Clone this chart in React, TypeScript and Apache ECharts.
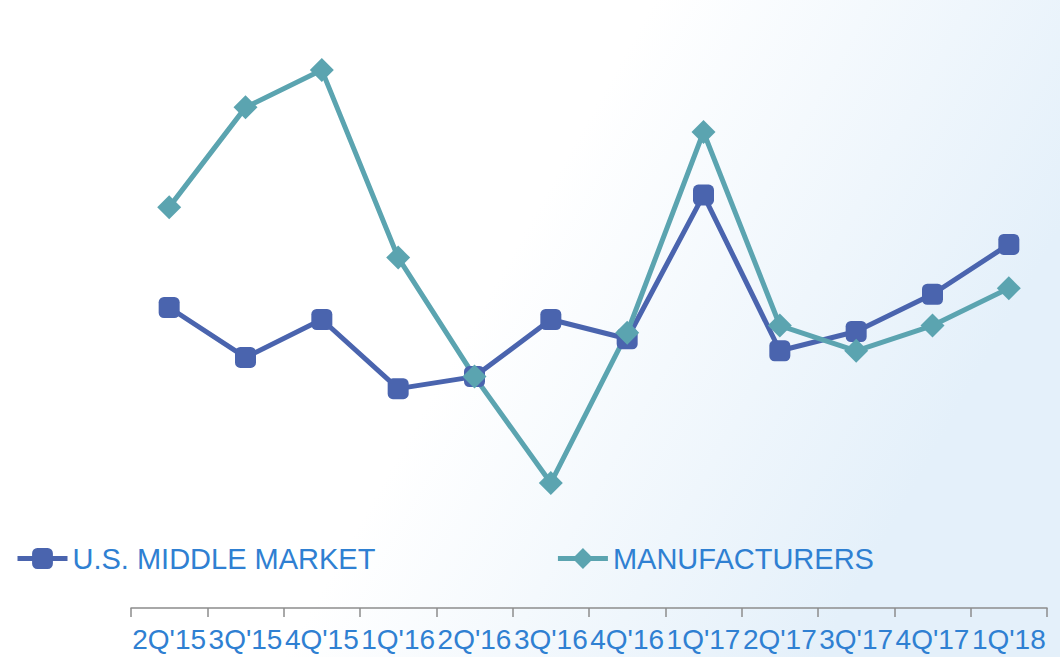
import React, { useEffect, useRef } from "react";
import * as echarts from "echarts";

const categories = ["2Q'15", "3Q'15", "4Q'15", "1Q'16", "2Q'16", "3Q'16", "4Q'16", "1Q'17", "2Q'17", "3Q'17", "4Q'17", "1Q'18"];
const middleMarket = [50, 41.7, 48, 36.5, 38.5, 48, 44.8, 68.7, 42.8, 46, 52.2, 60.5];
const manufacturers = [66.7, 83.3, 89.5, 58.3, 38.5, 20.8, 45.8, 79.2, 47, 42.8, 47, 53.2];
const seriesNames = ["U.S. MIDDLE MARKET", "MANUFACTURERS"];

export default function App() {
  const ref = useRef<HTMLDivElement>(null);
  useEffect(() => {
    document.body.style.margin = "0";
    const chart = echarts.init(ref.current!, null, { renderer: "svg" });
    chart.setOption({
      animation: false,
      backgroundColor: {
        type: "linear", x: 0, y: 0, x2: 1, y2: 0.35,
        colorStops: [
          { offset: 0, color: "#ffffff" },
          { offset: 0.55, color: "#ffffff" },
          { offset: 1, color: "#e4f0fa" },
        ],
      },
      grid: { left: 131, right: 13, top: 7, bottom: 49, containLabel: false },
      legend: {
        left: 15,
        top: 544,
        padding: 0,
        itemWidth: 50,
        itemHeight: 26,
        itemGap: 180,
        lineStyle: { width: 5 },
        textStyle: { color: "#2f80d2", fontSize: 29, fontFamily: "Liberation Sans, Arial, sans-serif" },
        data: seriesNames,
      },
      xAxis: {
        type: "category",
        data: categories,
        boundaryGap: true,
        axisLine: { lineStyle: { color: "#8c8c8c", width: 1.5 } },
        axisTick: { show: true, length: 9, lineStyle: { color: "#8c8c8c", width: 1.5 } },
        axisLabel: { color: "#2f80d2", fontSize: 28, fontFamily: "Liberation Sans, Arial, sans-serif", margin: 17, interval: 0 },
      },
      yAxis: {
        type: "value",
        min: 0,
        max: 100,
        show: false,
      },
      series: [
        {
          name: seriesNames[0],
          type: "line",
          data: middleMarket,
          symbol: "roundRect",
          symbolSize: 21,
          color: "#4a64ae",
          lineStyle: { width: 5, color: "#4a64ae" },
          itemStyle: { color: "#4a64ae" },
        },
        {
          name: seriesNames[1],
          type: "line",
          data: manufacturers,
          symbol: "diamond",
          symbolSize: 24,
          color: "#5ba4b0",
          lineStyle: { width: 5, color: "#5ba4b0" },
          itemStyle: { color: "#5ba4b0" },
        },
      ],
    });
    return () => chart.dispose();
  }, []);
  return <div ref={ref} style={{ width: 1060, height: 657 }} />;
}
